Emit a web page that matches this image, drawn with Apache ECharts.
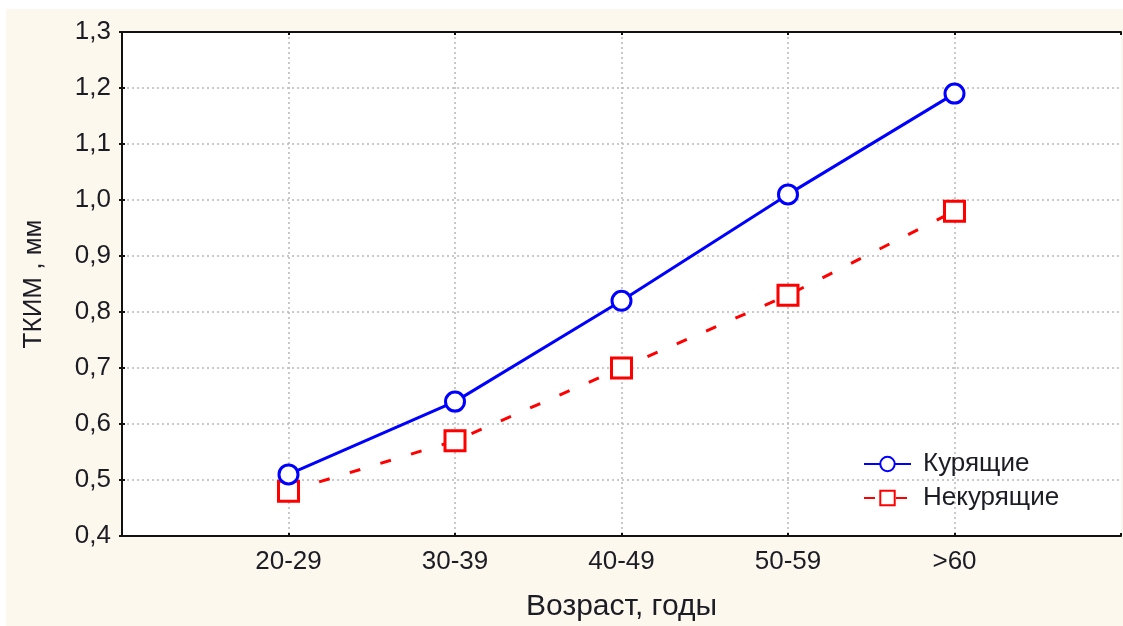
<!DOCTYPE html>
<html>

<head>
	<meta charset="UTF-8">
	<title></title>
	<style>
		body {
			margin: 0;
			background: #ffffff;
		}

		#chart {
			position: absolute;
			left: 6px;
			top: 9px;
			width: 1117px;
			height: 617px;
		}
	</style>
	<script src="https://cdn.jsdelivr.net/npm/echarts@6/dist/echarts.min.js"></script>
</head>

<body>
	<div id="chart"></div>
	<script>
		// возрастные группы (позиции 1..5 на оси x)
		var ageGroups = ['20-29', '30-39', '40-49', '50-59', '>60'];
		var smokers = [0.51, 0.64, 0.82, 1.01, 1.19];
		var nonSmokers = [0.48, 0.57, 0.70, 0.83, 0.98];
		var yTicks = [0.4, 0.5, 0.6, 0.7, 0.8, 0.9, 1.0, 1.1, 1.2, 1.3];

		function pairs(arr) {
			return arr.map(function (v, i) { return [i + 1, v]; });
		}

		var font = 'Liberation Sans, Arial, sans-serif';
		var textColor = '#1c1c24';
		var myChart = echarts.init(document.getElementById('chart'));

		myChart.setOption({
			backgroundColor: '#fdf8ee',
			animation: false,
			grid: {
				left: 116, top: 23, right: 2, bottom: 90,
				outerBoundsMode: 'none',
				show: true, backgroundColor: '#ffffff', borderWidth: 0
			},
			legend: {
				left: 857,
				top: 442,
				padding: 0,
				orient: 'vertical',
				itemWidth: 47,
				itemHeight: 18,
				itemGap: 8,
				textStyle: { fontFamily: font, fontSize: 26, lineHeight: 26, color: textColor, padding: [0, 0, 0, 7] },
				data: ['Курящие', 'Некурящие']
			},
			xAxis: [{
				type: 'value',
				min: 0,
				max: 6,
				interval: 1,
				name: 'Возраст, годы',
				nameLocation: 'middle',
				nameGap: 56,
				nameTextStyle: { fontFamily: font, fontSize: 30, color: textColor },
				axisLine: { lineStyle: { color: '#111', width: 2 } },
				axisTick: { inside: true, length: 3, lineStyle: { color: '#111', width: 2 } },
				axisLabel: {
					margin: 13,
					fontFamily: font,
					fontSize: 26,
					color: textColor,
					formatter: function (v) { return ageGroups[v - 1] || ''; }
				},
				splitLine: { show: true, showMinLine: false, showMaxLine: false, lineStyle: { color: '#b8b8b8', type: [2, 3], width: 1.5 } }
			}, {
				type: 'value',
				position: 'top',
				min: 0,
				max: 6,
				interval: 1,
				axisLine: { show: true, lineStyle: { color: '#111', width: 2 } },
				axisTick: { inside: true, length: 3, lineStyle: { color: '#111', width: 2 } },
				axisLabel: { show: false },
				splitLine: { show: false }
			}],
			yAxis: [{
				type: 'value',
				min: 0.4,
				max: 1.3,
				interval: 0.1,
				name: 'ТКИМ , мм',
				nameLocation: 'middle',
				nameGap: 75,
				nameTextStyle: { fontFamily: font, fontSize: 26, color: textColor },
				axisLine: { show: true, lineStyle: { color: '#111', width: 2 } },
				axisTick: { show: true, inside: true, length: 3, lineStyle: { color: '#111', width: 2 } },
				axisLabel: {
					margin: 11,
					fontFamily: font,
					fontSize: 26,
					color: textColor,
					formatter: function (v) {
						var t = yTicks.reduce(function (a, b) { return Math.abs(b - v) < Math.abs(a - v) ? b : a; });
						return t.toFixed(1).replace('.', ',');
					}
				},
				splitLine: { show: true, showMinLine: false, showMaxLine: false, lineStyle: { color: '#b8b8b8', type: [2, 3], width: 1.5 } }
			}, {
				type: 'value',
				position: 'right',
				min: 0.4,
				max: 1.3,
				interval: 0.1,
				axisLine: { show: false },
				axisTick: { show: true, inside: true, length: 3, lineStyle: { color: '#111', width: 2 } },
				axisLabel: { show: false },
				splitLine: { show: false }
			}],
			series: [{
				name: 'Курящие',
				type: 'line',
				data: pairs(smokers),
				symbol: 'circle',
				symbolSize: 19,
				color: '#0000ff',
				lineStyle: { color: '#0000ff', width: 3 },
				itemStyle: { color: '#ffffff', borderColor: '#0000ff', borderWidth: 3 },
				z: 3
			}, {
				name: 'Некурящие',
				type: 'line',
				data: pairs(nonSmokers),
				symbol: 'rect',
				symbolSize: 20,
				color: '#ff0000',
				lineStyle: { color: '#ff0000', width: 3, type: [11, 21] },
				itemStyle: { color: '#ffffff', borderColor: '#ff0000', borderWidth: 3 },
				z: 2
			}]
		});
	</script>
</body>

</html>
